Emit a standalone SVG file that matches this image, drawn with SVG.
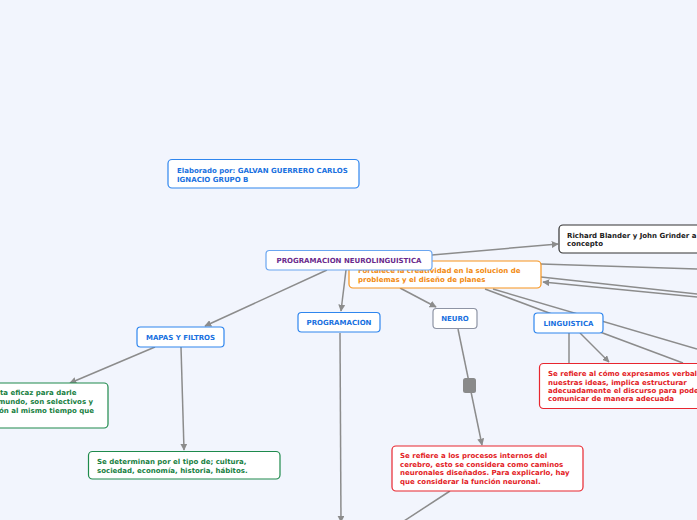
<svg xmlns="http://www.w3.org/2000/svg" width="697" height="520" viewBox="0 0 697 520">
<style>
text{font-family:"DejaVu Sans",Verdana,sans-serif;font-weight:bold;font-size:7px}
.box{fill:#fff;stroke-width:1.2}
.blue{stroke:#2f86ee}
.tblue{fill:#1870e0}
.green{stroke:#1e8a4c}
.tgreen{fill:#17803f}
.red{stroke:#e8262f}
.tred{fill:#e31b25}
.orange{stroke:#f7941d}
.torange{fill:#f28a10}
.dark{stroke:#333}
.tdark{fill:#1a1a1a}
.gray{stroke:#8e94a4}
.con line{stroke:#8c8c8c;stroke-width:1.5;fill:none}
.arr{marker-end:url(#ah)}
</style>
<defs>
<marker id="ah" viewBox="0 0 10 10" refX="9" refY="5" markerWidth="7" markerHeight="7" markerUnits="userSpaceOnUse" orient="auto">
<path d="M0,0 L10,5 L0,10 z" fill="#8c8c8c"/>
</marker>
</defs>
<rect width="697" height="520" fill="#f2f5fd"/>

<g id="connectors" class="con">
<line class="arr" x1="432" y1="255" x2="558" y2="244"/>
<line class="arr" x1="327" y1="270" x2="205" y2="326"/>
<line class="arr" x1="346" y1="270" x2="341" y2="311"/>
<line class="arr" x1="400" y1="288" x2="436" y2="307"/>
<line x1="485" y1="289" x2="683" y2="363"/>
<line x1="493" y1="289" x2="697" y2="349"/>
<line x1="541" y1="264" x2="697" y2="269"/>
<line x1="541" y1="277" x2="697" y2="294"/>
<line class="arr" x1="697" y1="297" x2="543" y2="282"/>
<line x1="569" y1="333" x2="569" y2="363"/>
<line class="arr" x1="580" y1="333" x2="609" y2="362"/>
<line class="arr" x1="458" y1="329" x2="482" y2="445"/>
<line class="arr" x1="155" y1="347" x2="70" y2="383"/>
<line class="arr" x1="181" y1="347" x2="184" y2="450"/>
<line class="arr" x1="340" y1="333" x2="341" y2="522"/>
<line x1="450" y1="491" x2="404" y2="521"/>
</g>

<g id="n-gray">
<rect x="463" y="378" width="13" height="15" rx="2.5" fill="#8a8a8a"/>
</g>

<g id="n-elaborado">
<rect class="box blue" x="168" y="159.5" width="191" height="28.5" rx="4"/>
<text class="tblue" x="177" y="173.3">Elaborado por: GALVAN GUERRERO CARLOS</text>
<text class="tblue" x="177" y="181.5">IGNACIO GRUPO B</text>
</g>

<g id="n-richard">
<rect class="box dark" x="559" y="225" width="150" height="28" rx="4"/>
<text class="tdark" x="567" y="238">Richard Blander y John Grinder a</text>
<text class="tdark" x="567" y="246.3">concepto</text>
</g>

<g id="n-fortalece">
<rect class="box orange" x="349" y="261" width="192" height="27" rx="4"/>
<text class="torange" x="358" y="273">Fortalece la creatividad en la solucion de</text>
<text class="torange" x="358" y="281.7">problemas y el diseño de planes</text>
</g>

<g id="n-main">
<rect class="box" x="266" y="250.5" width="166" height="19.5" rx="3.5" stroke="#6aa6f0" stroke-width="1.6"/>
<text x="349" y="262.8" text-anchor="middle" fill="#6a2a8c">PROGRAMACION NEUROLINGUISTICA</text>
</g>

<g id="n-programacion">
<rect class="box blue" x="298" y="312.5" width="82" height="19.5" rx="3.5"/>
<text class="tblue" x="339" y="325" text-anchor="middle">PROGRAMACION</text>
</g>

<g id="n-neuro">
<rect class="box gray" x="433" y="308.5" width="44" height="20" rx="3.5"/>
<text class="tblue" x="455" y="321" text-anchor="middle">NEURO</text>
</g>

<g id="n-linguistica">
<rect class="box blue" x="534" y="313" width="69" height="20" rx="3.5"/>
<text class="tblue" x="568.5" y="325.8" text-anchor="middle">LINGUISTICA</text>
</g>

<g id="n-mapas">
<rect class="box blue" x="137" y="327" width="87" height="20" rx="3.5"/>
<text class="tblue" x="180.5" y="340" text-anchor="middle">MAPAS Y FILTROS</text>
</g>

<g id="n-green1">
<rect class="box green" x="-20" y="383" width="128" height="45" rx="4"/>
<text class="tgreen" x="0" y="395.3">ta eficaz para darle</text>
<text class="tgreen" x="-2" y="404">mundo, son selectivos y</text>
<text class="tgreen" x="-1" y="412.5">ón al mismo tiempo que</text>
</g>

<g id="n-green2">
<rect class="box green" x="88.5" y="451.5" width="191.5" height="27.5" rx="4"/>
<text class="tgreen" x="97" y="463.5">Se determinan por el tipo de; cultura,</text>
<text class="tgreen" x="97" y="472.8">sociedad, economía, historia, hábitos.</text>
</g>

<g id="n-red1">
<rect class="box red" x="539.5" y="363.5" width="170" height="45" rx="4"/>
<text class="tred" x="548" y="376">Se refiere al cómo expresamos verbalm</text>
<text class="tred" x="548" y="384.5">nuestras ideas, implica estructurar</text>
<text class="tred" x="548" y="393">adecuadamente el discurso para pode</text>
<text class="tred" x="548" y="401.3">comunicar de manera adecuada</text>
</g>

<g id="n-red2">
<rect class="box red" x="392" y="446" width="191" height="45" rx="4"/>
<text class="tred" x="400" y="458.3">Se refiere a los procesos internos del</text>
<text class="tred" x="400" y="466.8">cerebro, esto se considera como caminos</text>
<text class="tred" x="400" y="475.2">neuronales diseñados. Para explicarlo, hay</text>
<text class="tred" x="400" y="483.6">que considerar la función neuronal.</text>
</g>
</svg>
